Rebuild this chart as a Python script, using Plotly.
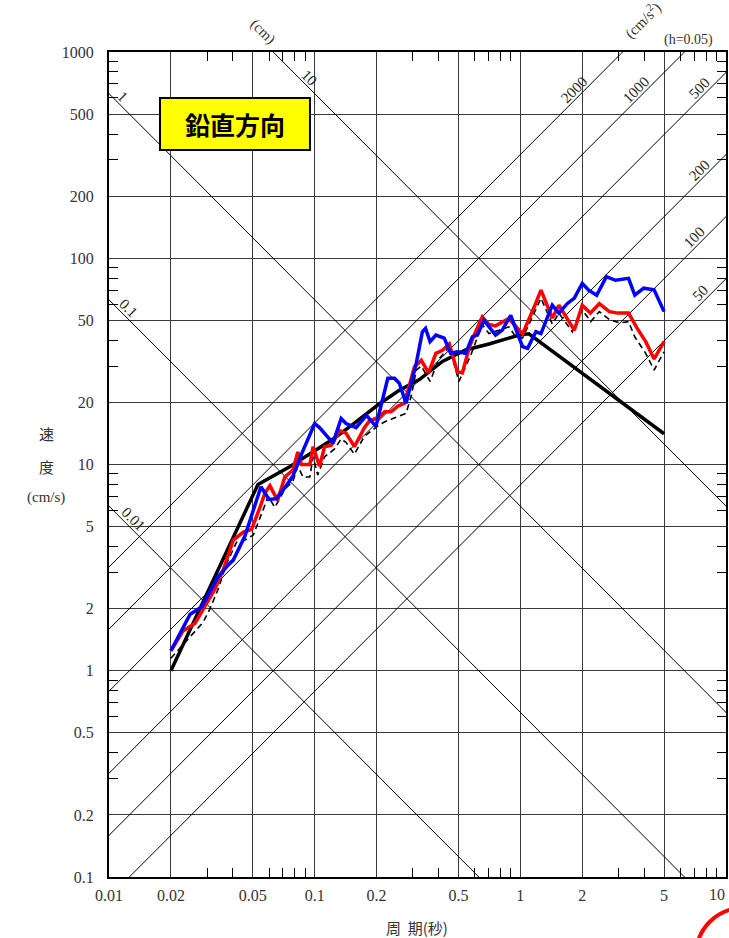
import numpy as np
import plotly.graph_objects as go

# ---- response spectrum data: period (s) vs pseudo-velocity (cm/s) ----
design_T = [0.02, 0.053, 0.0756, 0.1, 0.123, 0.15, 0.2065, 0.258, 0.323, 0.418, 0.542, 0.704, 0.986, 1.1, 5.0]
design_V = [1.0, 8.0, 9.75, 11.7, 13.3, 15.4, 19.7, 22.9, 25.8, 31.6, 35.9, 38.4, 42.4, 43.0, 14.1]

blue_T = [0.02, 0.0248, 0.0282, 0.034, 0.038, 0.0402, 0.0458, 0.0548, 0.0600, 0.0652, 0.0728, 0.0784,
          0.0862, 0.0912, 0.100, 0.1056, 0.1163, 0.1228, 0.1345, 0.142, 0.1589, 0.1786, 0.1985, 0.2268,
          0.2445, 0.2578, 0.2782, 0.3003, 0.312, 0.334, 0.346, 0.364, 0.3885, 0.4265, 0.458, 0.4935,
          0.542, 0.584, 0.618, 0.666, 0.71, 0.758, 0.817, 0.898, 0.969, 1.025, 1.085, 1.19, 1.26, 1.43,
          1.54, 1.69, 1.83, 2.0, 2.15, 2.35, 2.62, 2.9, 3.36, 3.6, 3.98, 4.47, 5.0]
blue_V = [1.25, 1.88, 2.04, 2.86, 3.26, 3.44, 4.5, 7.8, 6.77, 6.83, 7.9, 8.8,
          11.2, 12.8, 15.8, 15.1, 13.4, 12.7, 16.7, 15.8, 15.1, 17.3, 15.3, 26.2,
          26.2, 24.8, 19.8, 26.2, 31.0, 44.0, 45.7, 39.4, 42.4, 41.0, 34.6, 35.2,
          34.6, 41.6, 42.4, 50.0, 46.0, 42.4, 44.8, 52.9, 43.1, 37.3, 36.6, 44.0, 43.1, 59.2,
          54.2, 60.2, 64.1, 75.5, 70.0, 66.2, 81.4, 78.2, 79.9, 66.2, 71.6, 70.3, 55.1]

red_T = [0.02, 0.0229, 0.0262, 0.0299, 0.0328, 0.036, 0.0387, 0.0402, 0.045, 0.0494, 0.0542, 0.0574,
         0.0606, 0.066, 0.0716, 0.0784, 0.0828, 0.0862, 0.0947, 0.0983, 0.1056, 0.1118, 0.1205, 0.1324,
         0.142, 0.156, 0.1745, 0.1841, 0.2065, 0.219, 0.235, 0.254, 0.2735, 0.295, 0.3055, 0.33, 0.346,
         0.358, 0.3885, 0.418, 0.4515, 0.4935, 0.5225, 0.563, 0.596, 0.653, 0.704, 0.758, 0.88, 1.025,
         1.168, 1.26, 1.43, 1.54, 1.83, 2.0, 2.19, 2.42, 2.71, 2.98, 3.36, 3.7, 4.07, 4.47, 5.0]
red_V = [1.25, 1.56, 1.7, 2.12, 2.5, 3.1, 3.87, 4.3, 4.7, 4.85, 6.2, 7.3,
         7.9, 6.7, 8.7, 9.4, 11.5, 10.0, 10.0, 12.2, 9.8, 12.2, 12.4, 14.6,
         14.2, 12.2, 15.1, 16.2, 17.0, 18.0, 18.0, 19.2, 19.8, 25.7, 29.7, 32.0, 29.2,
         27.8, 34.6, 35.8, 38.4, 28.2, 27.8, 36.6, 42.4, 52.0, 47.8, 47.0, 51.0, 43.0,
         58.0, 70.1, 51.3, 59.2, 44.8, 59.2, 54.2, 60.2, 55.1, 54.2, 54.2, 45.7, 39.4, 32.5, 39.4]

dash_T = [0.02, 0.0235, 0.0257, 0.0287, 0.031, 0.034, 0.0373, 0.0417, 0.0458, 0.0503, 0.0553, 0.0595,
          0.064, 0.0716, 0.0784, 0.0828, 0.0878, 0.0947, 0.0983, 0.1035, 0.1118, 0.125, 0.1345, 0.142,
          0.156, 0.1745, 0.2065, 0.222, 0.24, 0.263, 0.278, 0.295, 0.312, 0.33, 0.364, 0.402, 0.4515,
          0.503, 0.574, 0.653, 0.704, 0.786, 0.88, 0.95, 1.025, 1.26, 1.43, 1.54, 1.79, 2.0, 2.2, 2.42,
          2.71, 3.04, 3.36, 3.6, 4.07, 4.47, 5.0]
dash_V = [1.15, 1.38, 1.52, 1.72, 2.0, 2.5, 3.3, 4.2, 4.3, 4.55, 5.8, 7.0,
          6.2, 7.6, 8.3, 9.8, 8.7, 8.7, 10.9, 8.9, 10.9, 11.9, 13.3, 12.8,
          11.2, 13.7, 15.6, 16.2, 16.7, 17.3, 17.7, 21.5, 28.7, 30.0, 25.3, 32.5, 37.2,
          25.3, 33.9, 47.8, 43.1, 44.8, 46.5, 41.6, 41.0, 64.0, 48.0, 54.2, 44.0, 56.2, 49.3, 55.1,
          50.4, 48.6, 49.3, 41.6, 34.6, 28.7, 35.2]

# ---- tripartite reference lines ----
disp_levels = [0.01, 0.1, 1, 10]            # cm
disp_label_T = [0.0131, 0.0124, 0.0117, 0.0946]
accel_levels = [50, 100, 200, 500, 1000, 2000]   # cm/s^2
accel_label_T = [8.5, 7.95, 8.42, 8.41, 4.12, 2.06]

x_ticks = [0.01, 0.02, 0.05, 0.1, 0.2, 0.5, 1, 2, 5, 10]
x_ticktext = ["0.01", "0.02", "0.05", "0.1", "0.2", "0.5", "1", "2", "5", "10"]
y_ticks = [0.1, 0.2, 0.5, 1, 2, 5, 10, 20, 50, 100, 200, 500, 1000]
y_ticktext = ["0.1", "0.2", "0.5", "1", "2", "5", "10", "20", "50", "100", "200", "500", "1000"]

x_minor = [m * 10.0 ** e for e in range(-2, 1) for m in (3, 4, 6, 7, 8, 9)]
y_minor = [m * 10.0 ** e for e in range(-1, 3) for m in (3, 4, 6, 7, 8, 9)]

SERIF = "Liberation Serif, Times New Roman, serif"
TICKFONT = dict(family=SERIF, size=16, color="#333")
TWO_PI = 2 * np.pi
T_span = np.array([0.001, 100.0])

fig = go.Figure()

for d in disp_levels:
    fig.add_trace(go.Scatter(x=T_span, y=TWO_PI * d / T_span, mode="lines",
                             line=dict(color="black", width=1), hoverinfo="skip", showlegend=False))
for a in accel_levels:
    fig.add_trace(go.Scatter(x=T_span, y=a * T_span / TWO_PI, mode="lines",
                             line=dict(color="black", width=1), hoverinfo="skip", showlegend=False))

fig.add_trace(go.Scatter(x=dash_T, y=dash_V, mode="lines",
                         line=dict(color="black", width=1.6, dash="6px,4px"), showlegend=False))
fig.add_trace(go.Scatter(x=design_T, y=design_V, mode="lines",
                         line=dict(color="black", width=3.5), showlegend=False))
fig.add_trace(go.Scatter(x=red_T, y=red_V, mode="lines",
                         line=dict(color="#ff0000", width=3.5), showlegend=False))
fig.add_trace(go.Scatter(x=blue_T, y=blue_V, mode="lines",
                         line=dict(color="#0000ff", width=3.5), showlegend=False))

annotations = []
for d, t in zip(disp_levels, disp_label_T):
    v = TWO_PI * d / t
    annotations.append(dict(x=np.log10(t), y=np.log10(v), xref="x", yref="y", text=f"{d:g}",
                            showarrow=False, textangle=45, yshift=11,
                            xanchor="center", yanchor="middle",
                            font=dict(family=SERIF, size=15, color="#222")))
for a, t in zip(accel_levels, accel_label_T):
    v = a * t / TWO_PI
    annotations.append(dict(x=np.log10(t), y=np.log10(v), xref="x", yref="y", text=f"{a:g}",
                            showarrow=False, textangle=-45, xshift=-11,
                            xanchor="center", yanchor="middle",
                            font=dict(family=SERIF, size=15, color="#222")))

W, H = 729, 938
L, R, TOP, B = 109, 1, 52, 61
pw, ph = W - L - R, H - TOP - B


def px(x):
    return (x - L) / pw


def py(y):
    return (H - B - y) / ph


def label(x, y, text, font, **kw):
    return dict(x=px(x), y=py(y), xref="paper", yref="paper", text=text, showarrow=False,
                xanchor="center", yanchor="middle", font=font, **kw)


CJK = "Noto Sans CJK JP"
annotations += [
    label(263, 31, "(cm)", dict(family=SERIF, size=15, color="#333"), textangle=45),
    label(645, 20, "(cm/s<sup>2</sup>)", dict(family=SERIF, size=15, color="#333"), textangle=-45),
    label(690, 40, "(h=0.05)", dict(family=SERIF, size=14, color="#333")),
    label(46, 433, "速", dict(family=CJK, size=15, color="#333")),
    label(46, 466, "度", dict(family=CJK, size=15, color="#333")),
    label(46, 498, "(cm/s)", dict(family=SERIF, size=15, color="#333")),
    label(418, 927, "周  期(秒)", dict(family=CJK, size=15, color="#333")),
    # last period tick label, kept inside the right edge of the figure
    dict(x=1, y=0, xref="x", yref="paper", text="10", showarrow=False, xanchor="right",
         yanchor="top", xshift=1, yshift=-7, font=TICKFONT),
    label(235, 124, "<b>鉛直方向</b>", dict(family=CJK, size=25, color="black"),
          bgcolor="#ffff00", bordercolor="black", borderwidth=2, width=146, height=48),
]

shapes = [
    dict(type="circle", xref="paper", yref="paper",
         x0=px(698), x1=px(792), y0=py(908), y1=py(1002),
         line=dict(color="#ff0000", width=4)),
]

axis_common = dict(type="log", showline=True, linecolor="black", linewidth=2, mirror="allticks",
                   showgrid=True, gridcolor="#3a3a3a", gridwidth=1, zeroline=False,
                   ticks="", tickfont=TICKFONT)

fig.update_layout(
    width=W, height=H, margin=dict(l=L, r=R, t=TOP, b=B),
    paper_bgcolor="white", plot_bgcolor="white",
    xaxis=dict(range=[-2, 1], tickvals=x_ticks[:-1], ticktext=x_ticktext[:-1], ticklabelstandoff=3,
               minor=dict(tickvals=x_minor, ticks="inside", ticklen=9, tickwidth=1,
                          tickcolor="black", showgrid=False),
               **axis_common),
    yaxis=dict(range=[-1, 3], tickvals=y_ticks, ticktext=y_ticktext, ticklabelstandoff=10,
               minor=dict(tickvals=y_minor, ticks="inside", ticklen=9, tickwidth=1,
                          tickcolor="black", showgrid=False),
               **axis_common),
    annotations=annotations, shapes=shapes, showlegend=False,
)

fig.write_html("out.html")
